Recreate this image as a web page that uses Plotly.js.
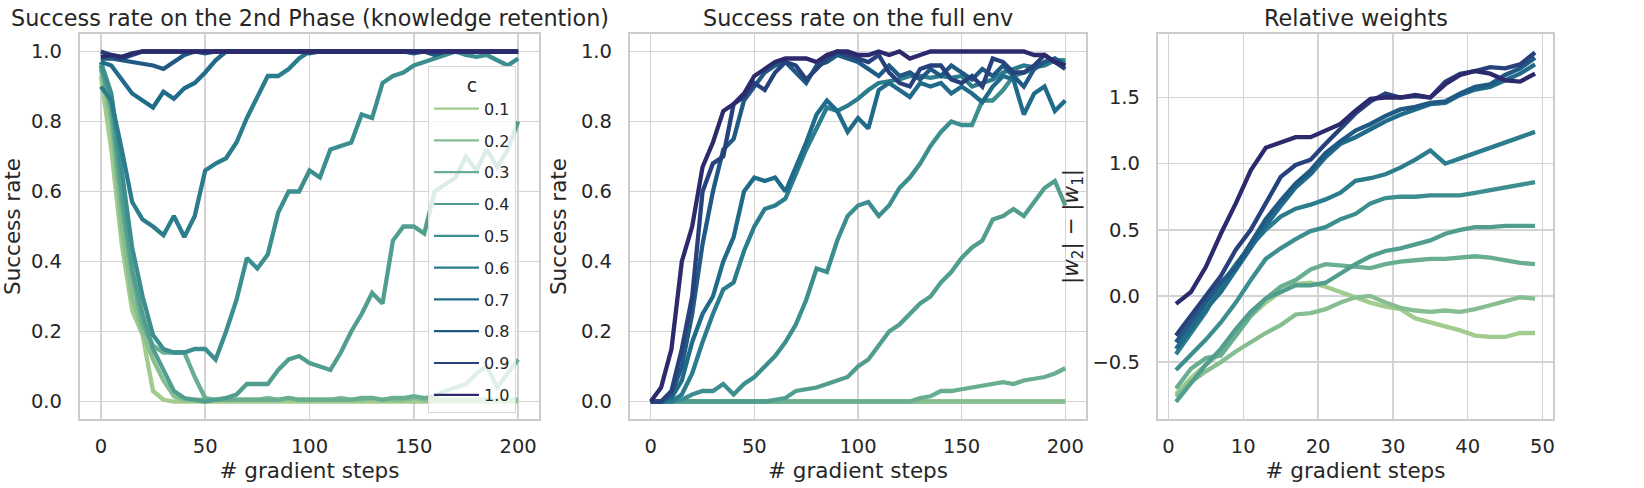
<!DOCTYPE html>
<html>
<head>
<meta charset="utf-8">
<script src="https://cdn.plot.ly/plotly-3.0.1.min.js"></script>
<style>
  html, body { margin: 0; padding: 0; background: #fff; }
  #chart { width: 1644px; height: 488px; }
</style>
</head>
<body>
<div id="chart"></div>
<script>
// hue levels (c) and their crest colours
const cLevels = ['0.1', '0.2', '0.3', '0.4', '0.5', '0.6', '0.7', '0.8', '0.9', '1.0'];
const crest = ['#a2cb8e', '#86be91', '#69ae90', '#519e8f', '#3d8e8e', '#2b7c8c', '#206b89', '#205984', '#26417b', '#2c2a6c'];

// panels 1 and 2: gradient steps 0..200, every 5
const steps200 = [0, 5, 10, 15, 20, 25, 30, 35, 40, 45, 50, 55, 60, 65, 70, 75, 80, 85, 90, 95, 100,
  105, 110, 115, 120, 125, 130, 135, 140, 145, 150, 155, 160, 165, 170, 175, 180, 185, 190, 195, 200];

// --- 2nd phase (knowledge retention) ---
const retention = [
  [0.93, 0.72, 0.45, 0.26, 0.19, 0.03, 0.005, 0, 0, 0, 0, 0, 0, 0, 0, 0, 0, 0, 0, 0, 0,
   0, 0, 0, 0, 0, 0, 0, 0, 0, 0, 0, 0, 0, 0, 0, 0, 0, 0, 0, 0],
  [0.95, 0.8, 0.5, 0.3, 0.2, 0.12, 0.06, 0.015, 0.005, 0.005, 0.005, 0.005, 0.01, 0.005, 0.005, 0.005, 0.01, 0.005, 0.01, 0.005, 0.005,
   0.005, 0.005, 0.01, 0.005, 0.005, 0.01, 0.005, 0.005, 0.005, 0.01, 0.005, 0.005, 0.005, 0.005, 0.005, 0.005, 0.005, 0.005, 0.005, 0.005],
  [0.96, 0.83, 0.56, 0.36, 0.22, 0.16, 0.14, 0.14, 0.14, 0.07, 0.01, 0.005, 0.005, 0.005, 0.005, 0.005, 0.005, 0.005, 0.01, 0.005, 0.005,
   0.005, 0.005, 0.005, 0.005, 0.01, 0.01, 0.005, 0.01, 0.01, 0.015, 0.01, 0.015, 0.03, 0.04, 0.05, 0.08, 0.1, 0.04, 0.08, 0.12],
  [0.96, 0.85, 0.6, 0.38, 0.25, 0.15, 0.09, 0.03, 0.01, 0.005, 0, 0.005, 0.01, 0.02, 0.05, 0.05, 0.05, 0.09, 0.12, 0.13, 0.11,
   0.1, 0.09, 0.14, 0.2, 0.25, 0.31, 0.28, 0.46, 0.5, 0.5, 0.48, 0.6, 0.62, 0.64, 0.7, 0.66, 0.72, 0.67, 0.72, 0.8],
  [0.97, 0.88, 0.66, 0.44, 0.3, 0.19, 0.15, 0.14, 0.14, 0.15, 0.15, 0.12, 0.2, 0.29, 0.41, 0.38, 0.42, 0.54, 0.6, 0.6, 0.66,
   0.64, 0.72, 0.73, 0.74, 0.82, 0.81, 0.91, 0.93, 0.94, 0.96, 0.97, 0.98, 0.99, 1.0, 0.99, 0.985, 0.99, 0.975, 0.96, 0.98],
  [0.9, 0.86, 0.72, 0.57, 0.52, 0.5, 0.475, 0.53, 0.47, 0.53, 0.66, 0.68, 0.695, 0.74, 0.81, 0.87, 0.93, 0.93, 0.95, 0.98, 1.0,
   1, 1, 1, 1, 1, 1, 1, 1, 1, 1, 1, 1, 1, 1, 1, 1, 1, 1, 1, 1],
  [0.97, 0.96, 0.92, 0.88, 0.86, 0.84, 0.885, 0.865, 0.895, 0.91, 0.94, 0.975, 1.0, 1, 1, 1, 1, 1, 1, 1, 1,
   1, 1, 1, 1, 1, 1, 1, 1, 1, 1, 1, 1, 1, 1, 1, 1, 1, 1, 1, 1],
  [0.98, 0.98, 0.975, 0.97, 0.965, 0.96, 0.95, 0.97, 0.99, 1.0, 0.995, 1, 1, 1, 1, 1, 1, 1, 1, 1, 0.995,
   1, 1, 1, 1, 1, 1, 1, 1, 1, 0.995, 1, 0.99, 1, 1, 1, 1, 1, 1, 1, 1],
  [1.0, 0.99, 0.98, 0.99, 1, 1, 1, 1, 1, 1, 1, 1, 1, 1, 1, 1, 1, 1, 1, 1, 1,
   1, 1, 1, 1, 1, 1, 1, 1, 1, 1, 1, 1, 1, 1, 1, 1, 1, 1, 1, 1],
  [0.985, 0.99, 0.985, 0.995, 1, 1, 1, 1, 1, 1, 1, 1, 1, 1, 1, 1, 1, 1, 1, 1, 1,
   1, 1, 1, 1, 1, 1, 1, 1, 1, 1, 1, 1, 1, 1, 1, 1, 1, 1, 1, 1]
];

// --- full env ---
const fullEnv = [
  [0, 0, 0, 0, 0, 0, 0, 0, 0, 0, 0, 0, 0, 0, 0, 0, 0, 0, 0, 0, 0,
   0, 0, 0, 0, 0, 0, 0, 0, 0, 0, 0, 0, 0, 0, 0, 0, 0, 0, 0, 0],
  [0, 0, 0, 0, 0, 0, 0, 0, 0, 0, 0, 0, 0, 0, 0, 0, 0, 0, 0, 0, 0,
   0, 0, 0, 0, 0, 0, 0, 0, 0, 0, 0, 0, 0, 0, 0, 0, 0, 0, 0, 0],
  [0, 0, 0, 0, 0, 0, 0, 0, 0, 0, 0, 0, 0, 0, 0, 0, 0, 0, 0, 0, 0,
   0, 0, 0, 0, 0, 0.01, 0.015, 0.03, 0.03, 0.035, 0.04, 0.045, 0.05, 0.055, 0.05, 0.06, 0.065, 0.07, 0.08, 0.095],
  [0, 0, 0, 0, 0, 0, 0, 0, 0, 0, 0, 0, 0.005, 0.01, 0.03, 0.035, 0.04, 0.05, 0.06, 0.07, 0.1,
   0.12, 0.16, 0.2, 0.22, 0.25, 0.28, 0.3, 0.34, 0.37, 0.41, 0.44, 0.46, 0.52, 0.53, 0.55, 0.53, 0.57, 0.61, 0.63, 0.56],
  [0, 0, 0, 0.005, 0.02, 0.03, 0.03, 0.05, 0.02, 0.05, 0.07, 0.1, 0.13, 0.17, 0.22, 0.29, 0.38, 0.37, 0.46, 0.53, 0.56,
   0.57, 0.53, 0.56, 0.61, 0.64, 0.68, 0.73, 0.77, 0.8, 0.79, 0.79, 0.86, 0.86, 0.89, 0.93, 0.94, 0.95, 0.97, 0.975, 0.975],
  [0, 0, 0, 0.02, 0.08, 0.17, 0.25, 0.32, 0.34, 0.43, 0.5, 0.55, 0.56, 0.58, 0.65, 0.72, 0.78, 0.84, 0.83, 0.845, 0.865,
   0.89, 0.91, 0.915, 0.92, 0.93, 0.93, 0.925, 0.93, 0.925, 0.93, 0.9, 0.91, 0.92, 0.94, 0.95, 0.96, 0.955, 0.96, 0.975, 0.97],
  [0, 0, 0.01, 0.06, 0.17, 0.25, 0.3, 0.4, 0.47, 0.6, 0.64, 0.63, 0.64, 0.6, 0.67, 0.74, 0.82, 0.86, 0.83, 0.77, 0.81,
   0.78, 0.89, 0.91, 0.89, 0.87, 0.91, 0.9, 0.91, 0.88, 0.9, 0.88, 0.855, 0.9, 0.93, 0.92, 0.82, 0.88, 0.9, 0.83, 0.86],
  [0, 0, 0.02, 0.1, 0.25, 0.45, 0.6, 0.72, 0.75, 0.86, 0.9, 0.94, 0.96, 0.97, 0.94, 0.91, 0.96, 0.97, 0.99, 0.98, 0.97,
   0.95, 0.93, 0.96, 0.93, 0.94, 0.92, 0.95, 0.93, 0.96, 0.94, 0.92, 0.95, 0.93, 0.96, 0.93, 0.9, 0.95, 0.97, 0.98, 0.96],
  [0, 0, 0.03, 0.15, 0.3, 0.6, 0.68, 0.7, 0.85, 0.87, 0.91, 0.89, 0.94, 0.97, 0.96, 0.92, 0.95, 0.98, 1.0, 0.99, 0.98,
   0.97, 0.99, 0.94, 0.91, 0.9, 0.95, 0.96, 0.96, 0.92, 0.91, 0.93, 0.9, 0.98, 0.97, 0.94, 0.94, 0.96, 0.99, 0.97, 0.95],
  [0, 0.04, 0.15, 0.4, 0.5, 0.67, 0.74, 0.83, 0.85, 0.88, 0.93, 0.95, 0.97, 0.98, 0.98, 0.98, 0.97, 0.99, 1.0, 1.0, 0.99,
   0.99, 1.0, 0.99, 1.0, 0.98, 0.99, 1.0, 1.0, 1.0, 1.0, 1.0, 1.0, 1.0, 1.0, 1.0, 1.0, 0.99, 0.99, 0.97, 0.96]
];

// --- relative weights |w2| - |w1|, steps 1..49 every 2 ---
const steps50 = [1, 3, 5, 7, 9, 11, 13, 15, 17, 19, 21, 23, 25, 27, 29, 31, 33, 35, 37, 39, 41, 43, 45, 47, 49];
const relWeights = [
  [-0.74, -0.62, -0.52, -0.43, -0.3, -0.15, -0.05, 0.03, 0.09, 0.1, 0.07, 0.03, -0.01, -0.05, -0.08, -0.1, -0.17, -0.2, -0.23, -0.26, -0.3, -0.31, -0.31, -0.28, -0.28],
  [-0.76, -0.65, -0.57, -0.5, -0.42, -0.35, -0.28, -0.22, -0.14, -0.13, -0.1, -0.05, -0.01, 0.0, -0.05, -0.09, -0.11, -0.12, -0.11, -0.12, -0.1, -0.07, -0.04, -0.01, -0.02],
  [-0.7, -0.55, -0.47, -0.45, -0.3, -0.15, -0.02, 0.07, 0.12, 0.2, 0.24, 0.23, 0.22, 0.21, 0.24, 0.26, 0.27, 0.28, 0.28, 0.29, 0.3, 0.29, 0.27, 0.25, 0.24],
  [-0.8, -0.66, -0.52, -0.4, -0.25, -0.12, -0.02, 0.03, 0.08, 0.08, 0.1, 0.17, 0.24, 0.3, 0.34, 0.36, 0.39, 0.42, 0.47, 0.5, 0.52, 0.52, 0.53, 0.53, 0.53],
  [-0.56, -0.45, -0.33, -0.2, -0.05, 0.12, 0.28, 0.36, 0.43, 0.49, 0.52, 0.58, 0.62, 0.7, 0.74, 0.75, 0.75, 0.76, 0.76, 0.76, 0.78, 0.8, 0.82, 0.84, 0.86],
  [-0.44, -0.28, -0.12, 0.08, 0.24, 0.38, 0.5, 0.6, 0.66, 0.69, 0.73, 0.78, 0.87, 0.89, 0.92, 0.97, 1.03, 1.1, 1.0, 1.04, 1.08, 1.12, 1.16, 1.2, 1.24],
  [-0.4, -0.25, -0.1, 0.03, 0.2, 0.36, 0.53, 0.68, 0.82, 0.92, 1.05, 1.15, 1.2, 1.26, 1.32, 1.37, 1.41, 1.45, 1.46, 1.52, 1.56, 1.58, 1.63, 1.68, 1.75],
  [-0.35, -0.2, -0.05, 0.1, 0.22, 0.4, 0.58, 0.72, 0.85, 0.95, 1.08, 1.17, 1.25, 1.3, 1.36, 1.41, 1.43, 1.46, 1.47, 1.53, 1.58, 1.6, 1.67, 1.72, 1.8],
  [-0.3, -0.15, 0.0, 0.15, 0.35, 0.5, 0.7, 0.9, 0.99, 1.03, 1.15, 1.27, 1.38, 1.47, 1.53, 1.5, 1.51, 1.5, 1.62, 1.68, 1.7, 1.73, 1.72, 1.75, 1.84],
  [-0.06, 0.03, 0.22, 0.47, 0.7, 0.95, 1.12, 1.16, 1.2, 1.2, 1.25, 1.3, 1.4, 1.49, 1.5, 1.5, 1.52, 1.5, 1.6, 1.67, 1.7, 1.68, 1.63, 1.62, 1.68]
];

const W = 1644, H = 488;
const FONT = 'DejaVu Sans';
const TXT = '#262626';

// frames measured in px on the page
const frames = [[80, 539], [630, 1086], [1158, 1553]];
const yDom = [1 - 419 / H, 1 - 34 / H];
const titles = ['Success rate on the 2nd Phase (knowledge retention)', 'Success rate on the full env', 'Relative weights'];

const traces = [];
function addPanel(xs, series, axisIdx) {
    const suffix = axisIdx === 1 ? '' : String(axisIdx);
    series.forEach((ys, i) => {
        traces.push({
            x: xs, y: ys, type: 'scatter', mode: 'lines',
            name: cLevels[i], showlegend: false,
            line: { color: crest[i], width: 4.3 },
            xaxis: 'x' + suffix, yaxis: 'y' + suffix, hoverinfo: 'skip'
        });
    });
}
addPanel(steps200, retention, 1);
addPanel(steps200, fullEnv, 2);
addPanel(steps50, relWeights, 3);

// legend entries: thinner lines like the matplotlib legend handles
cLevels.forEach((c, i) => {
    traces.push({
        x: [null], y: [null], type: 'scatter', mode: 'lines',
        name: c, legendgroup: c, showlegend: true,
        line: { color: crest[i], width: 2.2 }, hoverinfo: 'skip'
    });
});

function xAxis(i, range, dtick, label) {
    return {
        domain: [frames[i][0] / W, frames[i][1] / W], range: range, dtick: dtick, tick0: 0,
        showgrid: true, gridcolor: '#d3d3d3', gridwidth: 1.5, zeroline: false,
        showline: true, mirror: true, linecolor: '#cccccc', linewidth: 2.2,
        ticks: '', ticklabelstandoff: 8, tickfont: { family: FONT, size: 19.5, color: TXT },
        title: { text: label, font: { family: FONT, size: 21.5, color: TXT }, standoff: 4 },
        anchor: 'y' + (i === 0 ? '' : i + 1)
    };
}
function yAxis(i, range, dtick, tick0, label) {
    return {
        domain: yDom, range: range, dtick: dtick, tick0: tick0, tickformat: '.1f',
        showgrid: true, gridcolor: '#d3d3d3', gridwidth: 1.5, zeroline: false,
        showline: true, mirror: true, linecolor: '#cccccc', linewidth: 2.2,
        ticks: '', ticklabelstandoff: 12, tickfont: { family: FONT, size: 19.5, color: TXT },
        title: { text: label, font: { family: FONT, size: 21.5, color: TXT }, standoff: 8 },
        anchor: 'x' + (i === 0 ? '' : i + 1)
    };
}

const layout = {
    width: W, height: H, autosize: false,
    margin: { l: 0, r: 0, t: 0, b: 0 },
    paper_bgcolor: '#ffffff', plot_bgcolor: '#ffffff',
    font: { family: FONT, color: TXT },
    xaxis: xAxis(0, [-10, 210], 50, '# gradient steps'),
    yaxis: yAxis(0, [-0.05, 1.05], 0.2, 0, 'Success rate'),
    xaxis2: xAxis(1, [-10, 210], 50, '# gradient steps'),
    yaxis2: yAxis(1, [-0.05, 1.05], 0.2, 0, 'Success rate'),
    xaxis3: xAxis(2, [-1.4, 51.4], 10, '# gradient steps'),
    yaxis3: yAxis(2, [-0.93, 1.98], 0.5, 0, '|<i>w</i><sub>2</sub>| − |<i>w</i><sub>1</sub>|'),
    legend: {
        x: 428 / W, y: 1 - 66 / H, xanchor: 'left', yanchor: 'top',
        bgcolor: 'rgba(255,255,255,0.8)', bordercolor: '#d6d6d6', borderwidth: 1,
        font: { family: FONT, size: 16, color: TXT },
        title: { text: 'c', side: 'top center', font: { family: FONT, size: 19, color: TXT } },
        tracegroupgap: 8, itemwidth: 45
    },
    annotations: titles.map((t, i) => ({
        text: t, xref: 'paper', yref: 'paper', showarrow: false,
        x: (frames[i][0] + frames[i][1]) / 2 / W, y: 1 - 18 / H,
        xanchor: 'center', yanchor: 'middle',
        font: { family: FONT, size: 22.3, color: TXT }
    }))
};

Plotly.newPlot('chart', traces, layout, { staticPlot: true, displayModeBar: false });
</script>
</body>
</html>
